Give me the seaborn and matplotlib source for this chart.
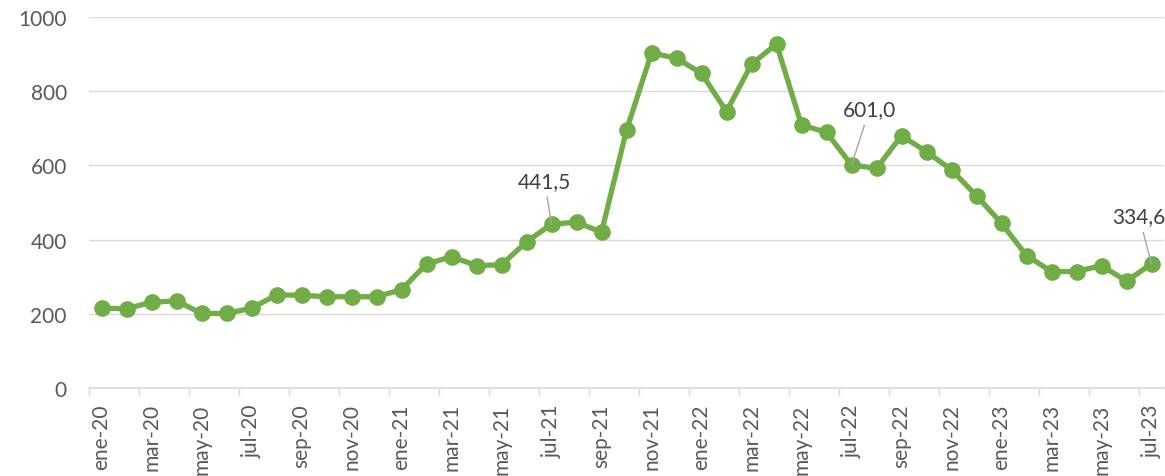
import matplotlib
matplotlib.use("Agg")
import matplotlib.pyplot as plt
import seaborn as sns
import pandas as pd
import numpy as np

months = ["ene", "feb", "mar", "abr", "may", "jun", "jul", "ago", "sep", "oct", "nov", "dic"]
categories = [f"{m}-{y}" for y in ["20", "21", "22", "23"] for m in months][:43]

values = [215, 214, 231, 235, 201, 201, 215, 251, 250, 246, 246, 246,
          265, 334, 354, 330, 332, 394, 441.5, 447, 420, 695, 903, 889,
          848, 745, 873, 927, 709, 689, 601.0, 592, 680, 637, 588, 518,
          444, 357, 314, 314, 330, 288, 334.6]

label_idx = [18, 30, 42]
label_offsets = [(-5, 24), (13, 33), (-9, 27)]
yticks = [0, 200, 400, 600, 800, 1000]

df = pd.DataFrame({"mes": np.arange(len(values)), "valor": values})

sns.set_theme(style="white")
plt.rcParams["font.family"] = ["Lato", "DejaVu Sans"]

fig = plt.figure(figsize=(11.65, 4.77), dpi=100)
ax = fig.add_axes([89 / 1165, 1 - 389 / 477, 1075 / 1165, (389 - 18) / 477])

green = "#70AD47"
sns.lineplot(data=df, x="mes", y="valor", ax=ax, color=green, linewidth=3.8,
             marker="o", markersize=12, markeredgewidth=0, zorder=3)

fs = 15
ax.set_xlim(-0.5, len(values) - 0.5)
ax.set_ylim(0, 1000)
ax.set_yticks(yticks)
ax.set_yticklabels([str(t) for t in yticks], fontsize=fs, color="#595959")
ax.tick_params(axis="y", length=0, pad=16)

ax.set_xticks(np.arange(0, len(values), 2))
ax.set_xticklabels(categories[::2], rotation=90, fontsize=fs, color="#595959")
ax.set_xticks(np.arange(-0.5, len(values), 2), minor=True)
ax.tick_params(axis="x", which="major", length=0, pad=11)
ax.tick_params(axis="x", which="minor", length=6, width=1, color="#D9D9D9", bottom=True)

ax.grid(axis="y", color="#D9D9D9", linewidth=1)
ax.set_axisbelow(True)
for s in ["left", "right", "top"]:
    ax.spines[s].set_visible(False)
ax.spines["bottom"].set_color("#D9D9D9")
ax.spines["bottom"].set_linewidth(1.2)
ax.set_xlabel("")
ax.set_ylabel("")

for i, (dx, dy) in zip(label_idx, label_offsets):
    txt = f"{values[i]:.1f}".replace(".", ",")
    ax.annotate(txt, xy=(i, values[i]), xytext=(dx, dy), textcoords="offset points",
                ha="center", va="bottom", fontsize=fs, color="#404040",
                annotation_clip=False,
                arrowprops=dict(arrowstyle="-", color="#A6A6A6", lw=1,
                                shrinkA=2, shrinkB=0))

fig.savefig("out.png", dpi=100)
